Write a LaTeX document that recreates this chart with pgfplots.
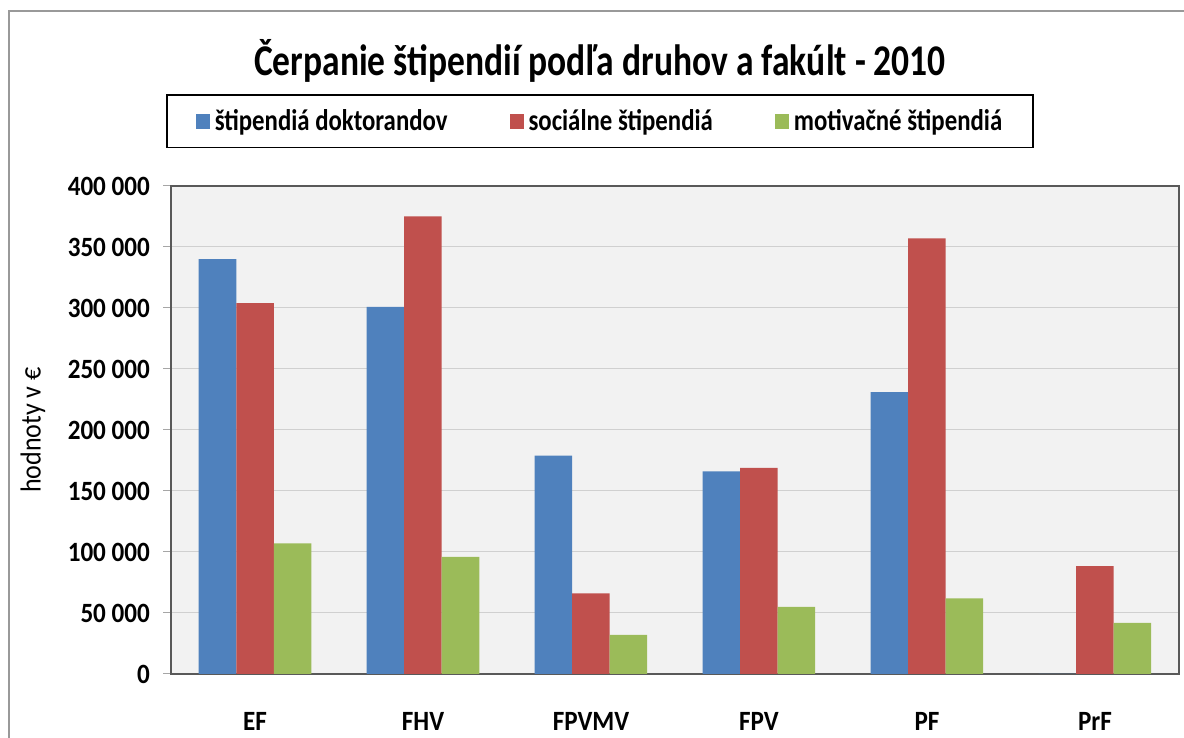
\documentclass[border=0pt]{standalone}
\usepackage{fontspec}
\setmainfont{Carlito}[FakeStretch=0.9]
\newfontfamily\titlefont{Carlito}[FakeStretch=0.81]
\newfontfamily\legfont{Carlito}[FakeStretch=0.83]
\usepackage{pgfplots}
\pgfplotsset{compat=1.18}
\definecolor{cblue}{HTML}{4F81BD}
\definecolor{cred}{HTML}{C0504D}
\definecolor{cgreen}{HTML}{9BBB59}
\definecolor{plotbg}{HTML}{F2F2F2}
\definecolor{gridc}{HTML}{D0D0D0}
\definecolor{axc}{HTML}{595959}
\begin{document}
\begin{tikzpicture}[x=1bp,y=1bp]
\useasboundingbox (0,0) rectangle (1184,738);
\draw[color=black!40, line width=1.5bp] (9,-10) -- (9,727) -- (1200,727);
\begin{axis}[
  at={(171bp,64bp)}, anchor=south west,
  scale only axis, width=1008bp, height=488bp,
  ybar=0pt, bar width=37.5bp,
  xmin=-0.5, xmax=5.5, ymin=0, ymax=400000,
  scaled y ticks=false,
  xtick={0,1,2,3,4,5},
  xticklabels={EF,FHV,FPVMV,FPV,PF,PrF},
  xtick style={draw=none},
  ytick={0,50000,100000,150000,200000,250000,300000,350000,400000},
  yticklabels={0,50 000,100 000,150 000,200 000,250 000,300 000,350 000,400 000},
  ytick pos=left, tick align=outside, major tick length=8bp,
  ytick style={draw=black!35, line width=1bp},
  ymajorgrids, grid style={draw=gridc, line width=1bp},
  axis background/.style={fill=plotbg},
  axis line style={draw=axc, line width=1.5bp},
  yticklabel style={font=\bfseries\fontsize{28}{28}\selectfont, anchor=east, inner sep=0pt, xshift=-13bp},
  xticklabel style={font=\bfseries\fontsize{28}{28}\selectfont, anchor=north, inner sep=0pt, yshift=-30bp},
  ylabel={hodnoty v €},
  every axis y label/.style={at={(rel axis cs:0,0.5)}, rotate=90, anchor=center, yshift=138bp, font=\fontsize{29}{29}\selectfont},
  legend style={at={(rel axis cs:0.4256,1.133)}, anchor=center, draw=black, line width=1.5bp,
    font=\legfont\bfseries\fontsize{30}{30}\selectfont, inner xsep=29bp, inner ysep=13bp,
    /tikz/every even column/.append style={column sep=60bp},
    /tikz/every odd column/.append style={column sep=3bp}},
  legend columns=3,
  legend image code/.code={\fill[#1] (0bp,-7.5bp) rectangle (14bp,7.5bp);},
]
\addplot[fill=cblue, draw=none] coordinates {(0,340000) (1,301000) (2,179000) (3,166000) (4,231000) (5,0)};
\addplot[fill=cred, draw=none] coordinates {(0,304000) (1,375000) (2,66000) (3,169000) (4,357000) (5,88500)};
\addplot[fill=cgreen, draw=none] coordinates {(0,107000) (1,96000) (2,32000) (3,55000) (4,62000) (5,42000)};
\legend{štipendiá doktorandov, sociálne štipendiá, motivačné štipendiá}
\end{axis}
\node[anchor=base, font=\titlefont\bfseries\fontsize{44}{44}\selectfont] at (600,662) {Čerpanie štipendií podľa druhov a fakúlt - 2010};
\end{tikzpicture}
\end{document}
